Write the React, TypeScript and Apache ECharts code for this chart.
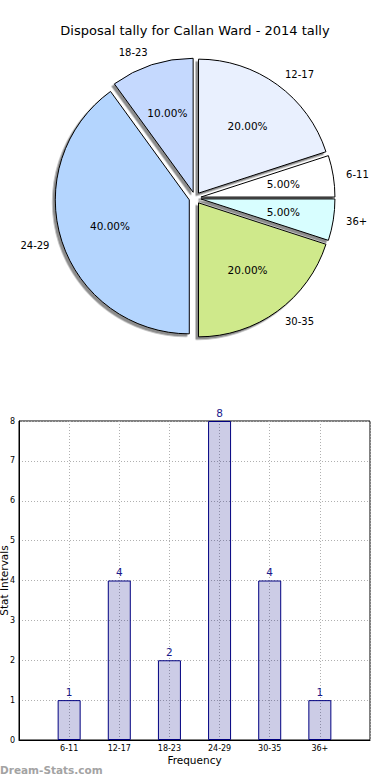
import React, { useEffect, useRef } from "react";
import * as echarts from "echarts";

const titleText = "Disposal tally for Callan Ward - 2014 tally";
const categories = ["6-11", "12-17", "18-23", "24-29", "30-35", "36+"];
const tally = [1, 4, 2, 8, 4, 1];
const pieColors = ["#FFFFFF", "#E9F0FE", "#C5D9FE", "#B4D5FE", "#CFE98B", "#D8FEFF"];
const yTicks = [0, 1, 2, 3, 4, 5, 6, 7, 8];
const xAxisName = "Frequency";
const yAxisName = "Stat Intervals";
const watermark = "Dream-Stats.com";

const FONT = "DejaVu Sans";
const PIE_R = 134;
const PIE_C = [195, 198];

export default function App() {
  const ref = useRef<HTMLDivElement>(null);
  useEffect(() => {
    if (!ref.current) return;
    const chart = echarts.init(ref.current, null, { renderer: "svg" });
    const pieData = categories.map((c, i) => ({
      name: c,
      value: tally[i],
      selected: true,
      itemStyle: { color: pieColors[i] },
    }));
    // bars sit at positions 1..n on a value axis spanning 0..n+1
    const barData = tally.map((v, i) => [i + 1, v]);
    chart.setOption({
      animation: false,
      textStyle: { fontFamily: FONT },
      title: {
        text: titleText,
        left: "center",
        top: 19,
        textStyle: { fontFamily: FONT, fontSize: 13, fontWeight: "normal", color: "#000" },
      },
      grid: {
        left: 19,
        top: 421,
        width: 351,
        height: 319,
        outerBoundsMode: "none",
        containLabel: false,
        show: true,
        borderColor: "#000",
        borderWidth: 1,
        backgroundColor: "transparent",
      },
      xAxis: {
        type: "value",
        min: 0,
        max: categories.length + 1,
        interval: 1,
        name: xAxisName,
        nameLocation: "middle",
        nameGap: 14,
        nameMoveOverlap: false,
        nameTextStyle: { fontSize: 10.5, color: "#000", fontFamily: FONT },
        axisLine: { lineStyle: { color: "#000", width: 1 } },
        axisTick: { show: false },
        axisLabel: {
          fontSize: 8,
          color: "#000",
          margin: 4,
          fontFamily: FONT,
          formatter: (v: number) => categories[v - 1] ?? "",
        },
        splitLine: { show: true, lineStyle: { color: "#b0b0b0", type: [1, 2], width: 1 } },
      },
      yAxis: {
        type: "value",
        min: yTicks[0],
        max: yTicks[yTicks.length - 1],
        interval: 1,
        name: yAxisName,
        nameLocation: "middle",
        nameGap: 10,
        nameMoveOverlap: false,
        nameTextStyle: { fontSize: 10.5, color: "#000", fontFamily: FONT },
        axisLine: { show: true, lineStyle: { color: "#000", width: 1 } },
        axisTick: { show: false },
        axisLabel: { fontSize: 8, color: "#000", margin: 4, fontFamily: FONT },
        splitLine: { show: true, lineStyle: { color: "#b0b0b0", type: [1, 2], width: 1 } },
      },
      series: [
        {
          type: "pie",
          center: PIE_C,
          radius: [0, PIE_R],
          startAngle: 0,
          clockwise: false,
          selectedMode: "multiple",
          selectedOffset: 6,
          avoidLabelOverlap: false,
          emphasis: { disabled: true },
          itemStyle: {
            borderColor: "#000",
            borderWidth: 1,
            shadowColor: "rgba(0,0,0,0.45)",
            shadowBlur: 0,
            shadowOffsetX: -2.5,
            shadowOffsetY: 2.5,
          },
          label: {
            show: true,
            position: "outside",
            formatter: "{b}",
            fontSize: 10,
            color: "#000",
            fontFamily: FONT,
            distanceToLabelLine: 0,
          },
          labelLine: { show: false, length: 13, length2: 0 },
          data: pieData,
        },
        {
          type: "pie",
          center: PIE_C,
          radius: [0, PIE_R * 1.2],
          startAngle: 0,
          clockwise: false,
          selectedMode: "multiple",
          selectedOffset: 6,
          silent: true,
          avoidLabelOverlap: false,
          emphasis: { disabled: true },
          itemStyle: { color: "rgba(0,0,0,0)", borderWidth: 0 },
          label: {
            show: true,
            position: "inside",
            formatter: (p: any) => p.percent.toFixed(2) + "%",
            fontSize: 10.5,
            color: "#000",
            fontFamily: FONT,
          },
          labelLine: { show: false },
          data: pieData.map((d) => ({ name: d.name, value: d.value, selected: true })),
        },
        {
          type: "bar",
          data: barData,
          barWidth: 23,
          itemStyle: {
            color: "rgba(0,0,128,0.2)",
            borderColor: "#000080",
            borderWidth: 1,
          },
          label: {
            show: true,
            position: "top",
            distance: 3,
            fontSize: 10.5,
            color: "#1a1a8c",
            fontFamily: FONT,
            formatter: (p: any) => String(p.value[1]),
          },
          emphasis: { disabled: true },
        },
      ],
      graphic: [
        {
          type: "text",
          left: 0,
          top: 764,
          style: {
            text: watermark,
            font: "bold 10.5px 'DejaVu Sans'",
            fill: "#a3a3a3",
          },
        },
      ],
    });
    return () => chart.dispose();
  }, []);
  return (
    <div
      ref={ref}
      style={{ position: "absolute", left: 0, top: 0, width: 390, height: 780 }}
    />
  );
}
